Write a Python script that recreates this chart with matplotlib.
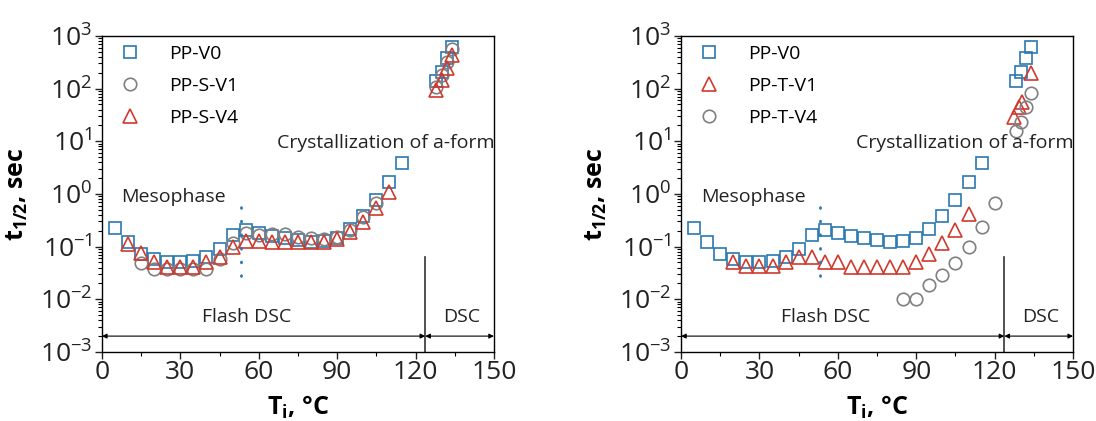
import numpy as np
import matplotlib
matplotlib.use("Agg")
import matplotlib.pyplot as plt

plt.rcParams['font.family'] = ['Open Sans', 'DejaVu Sans']
plt.rcParams['mathtext.fontset'] = 'custom'
plt.rcParams['mathtext.rm'] = 'Open Sans'
plt.rcParams['mathtext.bf'] = 'Open Sans:bold'
plt.rcParams['mathtext.it'] = 'Open Sans:italic'

# flash DSC temperatures (deg C)
T_flash = [5, 10, 15, 20, 25, 30, 35, 40, 45, 50, 55, 60, 65, 70, 75, 80, 85, 90, 95, 100, 105, 110, 115]
T_dsc = [128, 130, 132, 134]

# PP-V0 (same in both panels)
v0_flash = [0.227, 0.125, 0.072, 0.057, 0.052, 0.051, 0.054, 0.064, 0.090, 0.165, 0.21, 0.18,
            0.16, 0.143, 0.132, 0.123, 0.127, 0.148, 0.22, 0.38, 0.76, 1.7, 3.8]
v0_dsc = [140, 210, 380, 630]

# left panel: PP-S-V1, PP-S-V4
T_sv1 = [15, 20, 25, 30, 35, 40, 45, 50, 55, 60, 65, 70, 75, 80, 85, 90, 95, 100, 105]
sv1_flash = [0.049, 0.038, 0.037, 0.037, 0.037, 0.038, 0.059, 0.115, 0.18, 0.165, 0.17, 0.17,
             0.15, 0.145, 0.14, 0.15, 0.21, 0.37, 0.68]
sv1_dsc = [108, 180, 325, 560]

T_sv4 = [10, 15, 20, 25, 30, 35, 40, 45, 50, 55, 60, 65, 70, 75, 80, 85, 90, 95, 100, 105, 110]
sv4_flash = [0.11, 0.076, 0.052, 0.041, 0.041, 0.041, 0.052, 0.064, 0.10, 0.13, 0.13, 0.12,
             0.12, 0.12, 0.12, 0.12, 0.14, 0.19, 0.29, 0.53, 1.1]
sv4_dsc = [93, 145, 245, 435]

# right panel: PP-T-V1, PP-T-V4
T_tv1 = [20, 25, 30, 35, 40, 45, 50, 55, 60, 65, 70, 75, 80, 85, 90, 95, 100, 105, 110]
tv1_flash = [0.050, 0.043, 0.043, 0.043, 0.050, 0.064, 0.064, 0.050, 0.050, 0.041, 0.041, 0.041,
             0.041, 0.041, 0.050, 0.074, 0.115, 0.21, 0.41]
T_tv1_dsc = [127.3, 129.2, 130.5, 134]
tv1_dsc = [29, 45, 55, 195]

T_tv4 = [85, 90, 95, 100, 105, 110, 115, 120]
tv4_flash = [0.010, 0.010, 0.019, 0.029, 0.049, 0.10, 0.237, 0.68]
tv4_dsc = [15.6, 23, 44, 83]

BLUE = '#2b78b0'
RED = '#d03a2e'
GREY = '#808080'

T_border = 123.7     # Flash DSC / DSC boundary
T_meso = 53.3        # mesophase boundary


def draw_panel(ax, series):
    for (tx, vals, marker, color, label, ms) in series:
        ax.plot(tx, vals, linestyle='none', marker=marker, ms=ms, mfc='none', mec=color,
                mew=1.2, label=label)
    ax.set_yscale('log')
    ax.set_ylim(1e-3, 1e3)
    ax.set_xlim(0, 150)
    ax.set_xticks([0, 30, 60, 90, 120, 150])
    ax.set_xticks([15, 45, 75, 105, 135], minor=True)
    ax.yaxis.set_minor_locator(matplotlib.ticker.LogLocator(base=10, subs=np.arange(2, 10), numticks=20))
    ax.yaxis.set_minor_formatter(matplotlib.ticker.NullFormatter())
    ax.tick_params(axis='both', which='major', labelsize=19, direction='out', length=5, width=1,
                   colors='#222222')
    ax.tick_params(axis='both', which='minor', direction='out', length=3, width=0.8)
    ax.tick_params(axis='x', which='major', pad=1)
    ax.tick_params(axis='y', which='major', pad=2)
    for sp in ax.spines.values():
        sp.set_linewidth(1.0)

    ax.set_xlabel(r'$\mathbf{T_i}$, °C', fontsize=18, fontweight='bold', labelpad=6)
    ax.set_ylabel(r'$\mathbf{t_{1/2}}$, sec', fontsize=18, fontweight='bold')
    ax.yaxis.set_label_coords(-0.183, 0.5)

    # boundaries
    ax.plot([T_border, T_border], [1e-3, 0.064], color='#333333', lw=1.2)
    ax.plot([T_meso, T_meso], [0.028, 0.85], color=BLUE, lw=2.0, linestyle=(0, (0.3, 4.6)),
            dash_capstyle='round', zorder=5)

    ax.annotate('', xy=(0, 2e-3), xytext=(T_border, 2e-3),
                arrowprops=dict(arrowstyle='<|-|>', color='black', lw=0.8, mutation_scale=7,
                                shrinkA=0, shrinkB=0))
    ax.annotate('', xy=(T_border, 2e-3), xytext=(150, 2e-3),
                arrowprops=dict(arrowstyle='<|-|>', color='black', lw=0.8, mutation_scale=7,
                                shrinkA=0, shrinkB=0))
    ax.text(55.5, 4.6e-3, 'Flash DSC', fontsize=14, ha='center', va='center', color='#222222')
    ax.text(137.5, 4.6e-3, 'DSC', fontsize=14, ha='center', va='center', color='#222222')
    ax.text(7.5, 0.88, 'Mesophase', fontsize=14, ha='left', va='center', color='#222222')
    ax.text(67, 9.1, 'Crystallization of a-form', fontsize=14, ha='left', va='center', color='#222222')

    ax.legend(loc='upper left', frameon=False, fontsize=14, handletextpad=1.25,
              labelspacing=0.72, bbox_to_anchor=(0.0, 1.015), borderaxespad=0.3, handlelength=1.5)


fig = plt.figure(figsize=(10.96, 4.21), dpi=100)
ax1 = fig.add_axes([0.093, 0.164, 0.3577, 0.7506])
ax2 = fig.add_axes([0.6214, 0.164, 0.3577, 0.7506])

draw_panel(ax1, [
    (T_flash + T_dsc, v0_flash + v0_dsc, 's', BLUE, 'PP-V0', 8),
    (T_sv1 + T_dsc, sv1_flash + sv1_dsc, 'o', GREY, 'PP-S-V1', 9),
    (T_sv4 + T_dsc, sv4_flash + sv4_dsc, '^', RED, 'PP-S-V4', 10),
])
draw_panel(ax2, [
    (T_flash + T_dsc, v0_flash + v0_dsc, 's', BLUE, 'PP-V0', 8),
    (T_tv1 + T_tv1_dsc, tv1_flash + tv1_dsc, '^', RED, 'PP-T-V1', 10),
    (T_tv4 + T_dsc, tv4_flash + tv4_dsc, 'o', GREY, 'PP-T-V4', 9),
])

fig.savefig('out.png', dpi=100)
